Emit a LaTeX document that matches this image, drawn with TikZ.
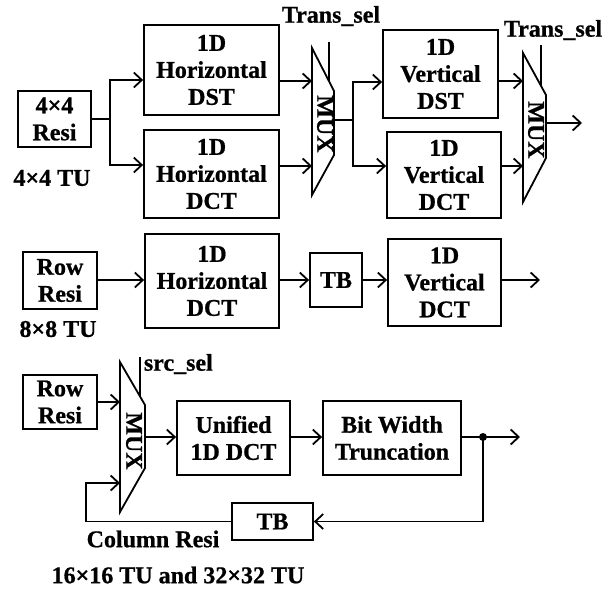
\documentclass[tikz,border=0pt]{standalone}
\usepackage{fontspec}
\setmainfont{Liberation Serif}[BoldFeatures={FakeBold=0.8}]
\usetikzlibrary{arrows.meta}
\begin{document}
\begin{tikzpicture}[x=1pt,y=-1pt, line width=1.8pt,
  font=\fontsize{24}{27}\selectfont\bfseries,
  blk/.style={draw, align=center, inner sep=0pt},
  lbl/.style={inner sep=0pt},
  arr/.style={-{Straight Barb[length=8pt,width=15pt]}},
  muxtext/.style={inner sep=0pt, rotate=-90},
]
\useasboundingbox (0,0) rectangle (603,589);

% ---------- 4x4 TU ----------
\node[blk, minimum width=73pt, minimum height=56pt] (r4) at (54.5,119) {4×4\\Resi};
\node[lbl] (l4) at (52,178) {4×4 TU};
\node[blk, minimum width=135pt, minimum height=90pt] (hdst) at (211.5,70) {1D\\Horizontal\\DST};
\node[blk, minimum width=135pt, minimum height=88pt] (hdct) at (211.5,174) {1D\\Horizontal\\DCT};
\node[blk, minimum width=115pt, minimum height=88pt] (vdst) at (440.5,74) {1D\\Vertical\\DST};
\node[blk, minimum width=114pt, minimum height=86pt] (vdct) at (444,175) {1D\\Vertical\\DCT};

% first multiplexer
\draw (312,48) -- (334,91) -- (334,155) -- (312,195) -- cycle;
\node[muxtext] (mux1) at (325,124) {MUX};
\coordinate (m1a) at (312,81);
\coordinate (m1b) at (312,166);
\coordinate (m1o) at (334,120);
\coordinate (t1) at (329,42);
\coordinate (t1e) at (329,81.2);
\node[lbl] (ts1) at (331,16) {Trans\_sel};

% second multiplexer
\draw (523,53) -- (546,95) -- (546,158) -- (523,202) -- cycle;
\node[muxtext] (mux2) at (536,130) {MUX};
\coordinate (m2a) at (523,81);
\coordinate (m2b) at (523,166);
\coordinate (m2o) at (546,123);
\coordinate (t2) at (541,45);
\coordinate (t2e) at (541,85.9);
\node[lbl] (ts2) at (553,30) {Trans\_sel};

\coordinate (s1) at (110,119);
\coordinate (s2) at (353,120);
\coordinate (e1) at (582,123);

\draw (r4.east) -- (s1);
\draw[arr] (s1) |- (hdst.west |- 0,80);
\draw[arr] (s1) |- (hdct.west |- 0,165);
\draw[arr] (hdst.east |- m1a) -- (m1a);
\draw[arr] (hdct.east |- m1b) -- (m1b);
\draw (t1) -- (t1e);
\draw (m1o) -- (s2);
\draw[arr] (s2) |- (vdst.west |- 0,82);
\draw[arr] (s2) |- (vdct.west |- 0,166);
\draw[arr] (vdst.east |- m2a) -- (m2a);
\draw[arr] (vdct.east |- m2b) -- (m2b);
\draw (t2) -- (t2e);
\draw[arr] (m2o) -- (e1);

% ---------- 8x8 TU ----------
\node[blk, minimum width=74pt, minimum height=57pt] (r8) at (60,280.5) {Row\\Resi};
\node[lbl] (l8) at (58,329) {8×8 TU};
\node[blk, minimum width=134pt, minimum height=94pt] (hd8) at (212,281) {1D\\Horizontal\\DCT};
\node[blk, minimum width=52pt, minimum height=54pt] (tb8) at (336,280) {TB};
\node[blk, minimum width=113pt, minimum height=87pt] (vd8) at (444.5,282.5) {1D\\Vertical\\DCT};
\coordinate (e2) at (540,280);

\draw[arr] (r8.east |- tb8) -- (hd8.west |- tb8);
\draw[arr] (hd8.east |- tb8) -- (tb8.west);
\draw[arr] (tb8.east) -- (vd8.west |- tb8);
\draw[arr] (vd8.east |- tb8) -- (e2);

% ---------- 16x16 and 32x32 TU ----------
\node[blk, minimum width=74pt, minimum height=54pt] (rr) at (60,402) {Row\\Resi};
\draw (120,362) -- (145,405) -- (145,468) -- (120,512) -- cycle;
\node[muxtext] (mux3) at (134,441) {MUX};
\coordinate (m3a) at (120,402);
\coordinate (m3b) at (120,483);
\coordinate (m3o) at (145,437);
\coordinate (t3) at (140,357);
\coordinate (t3e) at (140,396.4);
\node[lbl, anchor=west] (ss) at (143,364) {src\_sel};

\node[blk, minimum width=113pt, minimum height=74pt] (uni) at (233.5,438) {Unified\\1D DCT};
\node[blk, minimum width=138pt, minimum height=74pt] (bw) at (392,438) {Bit Width\\Truncation};
\node[blk, minimum width=81pt, minimum height=37pt] (tb16) at (272.5,521.5) {TB};
\node[lbl] (cr) at (153,539) {Column Resi};
\node[lbl] (l16) at (178,575) {16×16 TU and 32×32 TU};

\coordinate (dot) at (483,437);
\coordinate (e3) at (520,437);
\coordinate (fb) at (86,483);

\draw[arr] (rr.east |- m3a) -- (m3a);
\draw (t3) -- (t3e);
\draw[arr] (m3o) -- (uni.west |- m3o);
\draw[arr] (uni.east |- m3o) -- (bw.west |- m3o);
\draw (bw.east |- m3o) -- (dot);
\draw[arr] (dot) -- (e3);
\draw[arr] (dot) |- (tb16.east);
\draw[arr] (tb16.west) -| (fb) -- (m3b);
\fill (dot) circle (4);
\end{tikzpicture}
\end{document}
